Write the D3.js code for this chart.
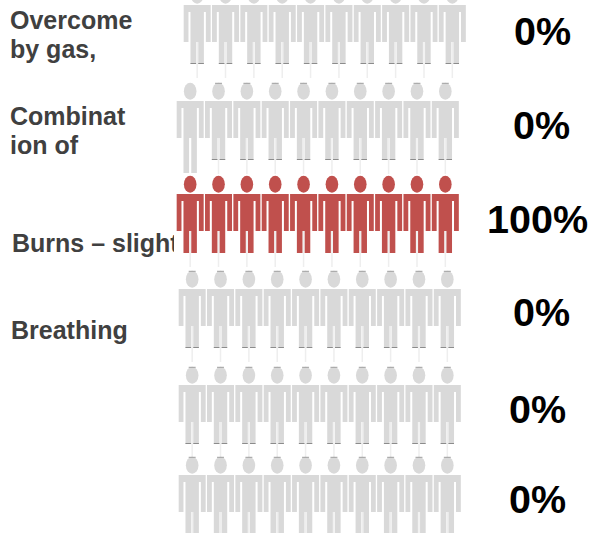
<!DOCTYPE html>
<html>
<head>
<meta charset="utf-8">
<script src="https://cdn.jsdelivr.net/npm/d3@7"></script>
<style>
  html, body { margin: 0; padding: 0; background: #fff; }
  svg { display: block; }
  text { font-family: "Liberation Sans", Arial, sans-serif; font-weight: bold; }
</style>
</head>
<body>
<div id="chart"></div>
<script>
// chart data
var categories = [["Overcome", "by gas,"], ["Combinat", "ion of"], ["Burns \u2013 slight"], ["Breathing"], [], []];
var percents = [0, 0, 100, 0, 0, 0];
var figureCount = d3.range(10);

// layout, small row by row offsets seen in the picture
var width = 590, height = 533;
var rowDx = [7, 0, 0, 2, 2, 2];
var rowDy = [0, 2, 1, 2, 4, 0];
var labelBase = [29, 125, 252, 339, 0, 0];
var labelX = [10, 10, 12, 11, 0, 0];
var pctX = [542.5, 541.5, 537.5, 541.5, 537.5, 537.5];
var pctBase = [45, 139, 233, 326, 423, 513];

var RED = "#c0504d", GRAY = "#d9d9d9";

var svg = d3.select("#chart").append("svg").attr("width", width).attr("height", height);

// the long label is cut off just before the first figure
svg.append("clipPath").attr("id", "labelClip")
  .append("rect").attr("x", 0).attr("y", 0).attr("width", 174).attr("height", height);

var x = d3.scaleBand().domain(figureCount).range([176, 459.5]).paddingInner(0).paddingOuter(0);
var y = d3.scalePoint().domain(d3.range(6)).range([5, 475]);

// person outline, origin is the middle of the shoulders
function personPath(legEnd) {
  var p = d3.path();
  p.moveTo(-13.5, 0);
  p.lineTo(13.5, 0);
  p.lineTo(13.5, 37);
  p.lineTo(8.7, 37);
  p.lineTo(8.7, 7);
  p.lineTo(6.7, 7);
  p.lineTo(6.7, legEnd);
  p.lineTo(1.1, legEnd);
  p.lineTo(1.1, 37);
  p.lineTo(-1.1, 37);
  p.lineTo(-1.1, legEnd);
  p.lineTo(-6.7, legEnd);
  p.lineTo(-6.7, 7);
  p.lineTo(-8.7, 7);
  p.lineTo(-8.7, 37);
  p.lineTo(-13.5, 37);
  p.closePath();
  return p.toString();
}

// labels go first, the figures sit on top of them
svg.selectAll("g.label").data(categories).enter().append("g").attr("class", "label")
  .attr("clip-path", "url(#labelClip)")
  .each(function (lines, i) {
    d3.select(this).selectAll("text").data(lines).enter().append("text")
      .attr("x", labelX[i])
      .attr("y", function (d, j) { return labelBase[i] + j * 29; })
      .attr("fill", "#404040")
      .style("font-size", "25px")
      .text(function (d) { return d; });
  });

var rows = svg.selectAll("g.row").data(percents).enter().append("g")
  .attr("class", "row")
  .attr("transform", function (d, i) { return "translate(" + rowDx[i] + "," + (y(i) + rowDy[i]) + ")"; });

rows.each(function (pct, r) {
  var filled = Math.round(pct / 100 * figureCount.length);
  var fig = d3.select(this).selectAll("g.fig").data(figureCount).enter().append("g")
    .attr("class", "fig")
    .attr("transform", function (d) { return "translate(" + (x(d) + x.bandwidth() / 2) + ",0)"; });

  var colour = function (d) { return d < filled ? RED : GRAY; };
  // the first figure of the second row has long legs and no end mark
  var longLeg = function (d) { return r === 1 && d === 0; };

  // faint stem between and under the legs
  fig.filter(function (d) { return !longLeg(d); }).append("line")
    .attr("x1", 0).attr("x2", 0).attr("y1", 37).attr("y2", 73)
    .attr("stroke", "#eeeeee").attr("stroke-width", 1.5);

  fig.append("ellipse")
    .attr("cx", 0).attr("cy", -9.7).attr("rx", 6.3).attr("ry", 8.5)
    .attr("fill", colour);

  fig.append("path")
    .attr("d", function (d) { return personPath(longLeg(d) ? 72 : 59); })
    .attr("fill", colour);

  // dark ticks on the grey figures
  var gray = fig.filter(function (d) { return d >= filled && !longLeg(d); });
  gray.append("path")
    .attr("d", "M-6.7,58.5H-1.1M1.1,58.5H6.7")
    .attr("stroke", "#8c8c8c").attr("stroke-width", 1).attr("fill", "none");
  gray.filter(function () { return r > 0; }).append("path")
    .attr("d", "M-3.5,-17.7H3.5")
    .attr("stroke", "#a0a0a0").attr("stroke-width", 1).attr("fill", "none");
});

svg.selectAll("text.pct").data(percents).enter().append("text")
  .attr("class", "pct")
  .attr("x", function (d, i) { return pctX[i]; })
  .attr("y", function (d, i) { return pctBase[i]; })
  .attr("text-anchor", "middle")
  .attr("fill", "#000")
  .style("font-size", "39.5px")
  .text(function (d) { return d + "%"; });
</script>
</body>
</html>
